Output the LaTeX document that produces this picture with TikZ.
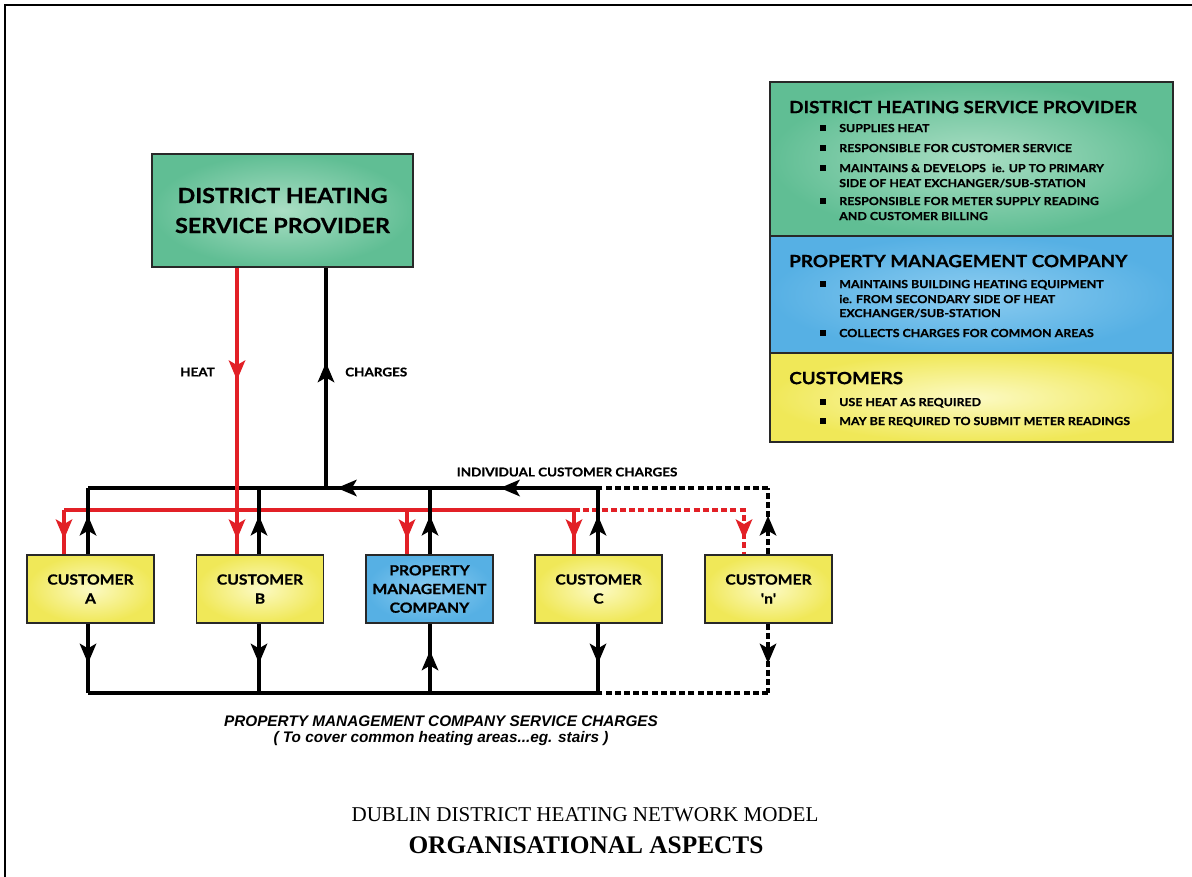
\documentclass[tikz,border=0pt]{standalone}
\usepackage{fontspec}
\setmainfont{Lato}
\newfontfamily\hf[FakeStretch=1.12,BoldFeatures={FakeBold=0.7}]{Lato}
\newfontfamily\af{Liberation Sans}
\newfontfamily\tf{Liberation Serif}
\usetikzlibrary{calc}
\definecolor{dhgreen}{RGB}{96,190,148}
\definecolor{dhgreenL}{RGB}{170,222,196}
\definecolor{pmblue}{RGB}{86,176,228}
\definecolor{pmblueL}{RGB}{140,204,240}
\definecolor{cuyel}{RGB}{240,232,88}
\definecolor{cuyelL}{RGB}{252,250,196}
\definecolor{heatred}{RGB}{226,32,38}
\definecolor{edge}{RGB}{40,40,40}
\tikzset{
  blk/.style={line width=2.8pt,black},
  redl/.style={line width=2.5pt,heatred},
  dsh/.style={dash pattern=on 4.5pt off 2.4pt},
  boxbase/.style={draw=edge,line width=1.4pt,inner sep=0pt,align=center},
  gbox/.style={boxbase,inner color=dhgreenL,outer color=dhgreen},
  bbox/.style={boxbase,inner color=pmblueL,outer color=pmblue},
  ybox/.style={boxbase,inner color=cuyelL,outer color=cuyel},
  custbox/.style={minimum width=95.25pt,minimum height=51pt,font=\hf\bfseries\fontsize{10.5}{14.25}\selectfont},
  lbl/.style={inner sep=0pt,text depth=0pt,font=\hf\bfseries\fontsize{9}{11}\selectfont},
  ltitle/.style={inner sep=0pt,text depth=0pt,anchor=west,font=\hf\bfseries\fontsize{12.6}{15}\selectfont},
  litem/.style={inner sep=0pt,text depth=0pt,anchor=west,font=\hf\bfseries\fontsize{8.3}{10}\selectfont},
  bul/.style={fill=black,inner sep=0pt,minimum size=4.1pt},
}
% arrowheads on the connector from #2 to #3, tip at fraction #4, colour #1
\newcommand\arrD[4]{\coordinate (tmpT) at ($(#2)!#4!(#3)$);
  \fill[#1] (tmpT) -- ++(-8.5,-20) -- ++(8.5,5) -- ++(8.5,-5) -- cycle;}
\newcommand\arrU[4]{\coordinate (tmpT) at ($(#2)!#4!(#3)$);
  \fill[#1] (tmpT) -- ++(-8.5,20) -- ++(8.5,-5) -- ++(8.5,5) -- cycle;}
\newcommand\arrL[4]{\coordinate (tmpT) at ($(#2)!#4!(#3)$);
  \fill[#1] (tmpT) -- ++(20,-8.5) -- ++(-5,8.5) -- ++(5,8.5) -- cycle;}
\begin{document}
\begin{tikzpicture}[x=0.75pt,y=-0.75pt]
\useasboundingbox (0,0) rectangle (1192,877);
\draw[line width=1.5pt] (5,877) -- (5,5) -- (1192,5);

% main boxes
\node[gbox,minimum width=195.75pt,minimum height=84.75pt,font=\hf\bfseries\fontsize{15.6}{22.5}\selectfont] (dhsp) at (282.5,210.5) {DISTRICT HEATING\\SERVICE PROVIDER};
\node[ybox,custbox] (cA) at (90.5,589) {CUSTOMER\\A};
\node[ybox,custbox] (cB) at (260,589) {CUSTOMER\\B};
\node[bbox,custbox,font=\hf\bfseries\fontsize{10.5}{14}\selectfont] (pmc) at (429.5,589) {PROPERTY\\MANAGEMENT\\COMPANY};
\node[ybox,custbox] (cC) at (598.5,589) {CUSTOMER\\C};
\node[ybox,custbox] (cN) at (768.5,589) {CUSTOMER\\'n'};

% junction coordinates
\coordinate (tA) at (88,488); \coordinate (tB) at (259,488); \coordinate (tP) at (430,488);
\coordinate (tC) at (598,488); \coordinate (tN) at (768,488); \coordinate (tch) at (326,488);
\coordinate (rA) at (64,510); \coordinate (rB) at (237,510); \coordinate (rP) at (407,510);
\coordinate (rC) at (574,510); \coordinate (rN) at (744,510);
\coordinate (bA) at (88,693); \coordinate (bB) at (259,693); \coordinate (bP) at (430,693);
\coordinate (bC) at (598,693); \coordinate (bN) at (768,693);
\coordinate (dB) at (dhsp.south -| rB); \coordinate (dC) at (dhsp.south -| tch);
\coordinate (nA) at (cA.north -| tA); \coordinate (nB) at (cB.north -| tB);
\coordinate (nP) at (pmc.north -| tP); \coordinate (nC) at (cC.north -| tC);
\coordinate (nN) at (cN.north -| tN);
\coordinate (hA) at (cA.north -| rA); \coordinate (hB) at (cB.north -| rB);
\coordinate (hP) at (pmc.north -| rP); \coordinate (hC) at (cC.north -| rC);
\coordinate (hN) at (cN.north -| rN);
\coordinate (sA) at (cA.south -| bA); \coordinate (sB) at (cB.south -| bB);
\coordinate (sP) at (pmc.south -| bP); \coordinate (sC) at (cC.south -| bC);
\coordinate (sN) at (cN.south -| bN);

% top black bus (individual customer charges)
\draw[blk] (tC) -- (tA);
\draw[blk] (tch) -- (dC);
\draw[blk,dsh] (tN) -- (tC);
\arrL{black}{tC}{tP}{0.583}
\arrL{black}{tP}{tA}{0.272}
\arrU{black}{tch}{dC}{0.57}

% heat (red)
\draw[redl] (dB) -- (hB);
\draw[redl] (rA) -- (rC);
\draw[redl] (rA) -- (hA);
\draw[redl] (rP) -- (hP);
\draw[redl] (rC) -- (hC);
\draw[redl,dsh] (rC) -- (rN) -- (hN);
\arrD{heatred}{dB}{hB}{0.392}
\arrD{heatred}{rA}{hA}{0.66}
\arrD{heatred}{rB}{hB}{0.66}
\arrD{heatred}{rP}{hP}{0.66}
\arrD{heatred}{rC}{hC}{0.66}
\arrD{heatred}{rN}{hN}{0.66}

% black risers to top bus
\draw[blk] (nA) -- (tA);
\draw[blk] (nB) -- (tB);
\draw[blk] (nP) -- (tP);
\draw[blk] (nC) -- (tC);
\draw[blk,dsh] (nN) -- (tN);
\arrU{black}{nA}{tA}{0.58}
\arrU{black}{nB}{tB}{0.58}
\arrU{black}{nP}{tP}{0.58}
\arrU{black}{nC}{tC}{0.58}
\arrU{black}{nN}{tN}{0.58}

% bottom bus (service charges)
\draw[blk] (sA) -- (bA);
\draw[blk] (sB) -- (bB);
\draw[blk] (bP) -- (sP);
\draw[blk] (sC) -- (bC);
\draw[blk,dsh] (sN) -- (bN);
\draw[blk] (bA) -- (bC);
\draw[blk,dsh] (bN) -- (bC);
\arrD{black}{sA}{bA}{0.571}
\arrD{black}{sB}{bB}{0.571}
\arrU{black}{bP}{sP}{0.614}
\arrD{black}{sC}{bC}{0.571}
\arrD{black}{sN}{bN}{0.571}

% labels
\node[lbl,anchor=east] (heatl) at (215,372) {HEAT};
\node[lbl,anchor=west] (chl) at (345,372) {CHARGES};
\node[lbl] (icc) at (567,472) {INDIVIDUAL CUSTOMER CHARGES};

% legend
\node[gbox,minimum width=302.25pt,minimum height=115.5pt] (lg) at (971.5,159) {};
\node[bbox,minimum width=302.25pt,minimum height=87.75pt] (lb) at (971.5,294.5) {};
\node[ybox,minimum width=302.25pt,minimum height=66.75pt] (ly) at (971.5,397.5) {};

\node[ltitle] (lgt) at (789,107) {DISTRICT HEATING SERVICE PROVIDER};
\node[bul] (bg1) at (823,128) {}; \node[litem] (g1) at (839,128) {SUPPLIES HEAT};
\node[bul] (bg2) at (823,148) {}; \node[litem] (g2) at (839,148) {RESPONSIBLE FOR CUSTOMER SERVICE};
\node[bul] (bg3) at (823,168) {}; \node[litem] (g3) at (839,168) {MAINTAINS \& DEVELOPS\ \ ie. UP TO PRIMARY};
\node[litem] (g3b) at (839,183) {SIDE OF HEAT EXCHANGER/SUB-STATION};
\node[bul] (bg4) at (823,201) {}; \node[litem] (g4) at (839,201) {RESPONSIBLE FOR METER SUPPLY READING};
\node[litem] (g4b) at (839,216) {AND CUSTOMER BILLING};

\node[ltitle] (lbt) at (789,261) {PROPERTY MANAGEMENT COMPANY};
\node[bul] (bb1) at (823,284) {}; \node[litem] (b1) at (839,284) {MAINTAINS BUILDING HEATING EQUIPMENT};
\node[litem] (b1b) at (839,299) {ie. FROM SECONDARY SIDE OF HEAT};
\node[litem] (b1c) at (839,313) {EXCHANGER/SUB-STATION};
\node[bul] (bb2) at (823,333) {}; \node[litem] (b2) at (839,333) {COLLECTS CHARGES FOR COMMON AREAS};

\node[ltitle] (lyt) at (789,378) {CUSTOMERS};
\node[bul] (by1) at (823,402) {}; \node[litem] (y1) at (839,402) {USE HEAT AS REQUIRED};
\node[bul] (by2) at (823,421) {}; \node[litem] (y2) at (839,421) {MAY BE REQUIRED TO SUBMIT METER READINGS};

% bottom texts
\node[inner sep=0pt,font=\af\bfseries\itshape\fontsize{11.5}{14}\selectfont] (sc1) at (441,721) {PROPERTY MANAGEMENT COMPANY SERVICE CHARGES};
\node[inner sep=0pt,font=\af\bfseries\itshape\fontsize{11.5}{14}\selectfont] (sc2) at (441,739) {( To cover common heating areas...eg. stairs )};
\node[inner sep=0pt,font=\tf\fontsize{15.8}{18}\selectfont] (t1) at (585,815) {DUBLIN DISTRICT HEATING NETWORK MODEL};
\node[inner sep=0pt,font=\tf\bfseries\fontsize{19}{22}\selectfont] (t2) at (586,845) {ORGANISATIONAL ASPECTS};
\end{tikzpicture}
\end{document}
